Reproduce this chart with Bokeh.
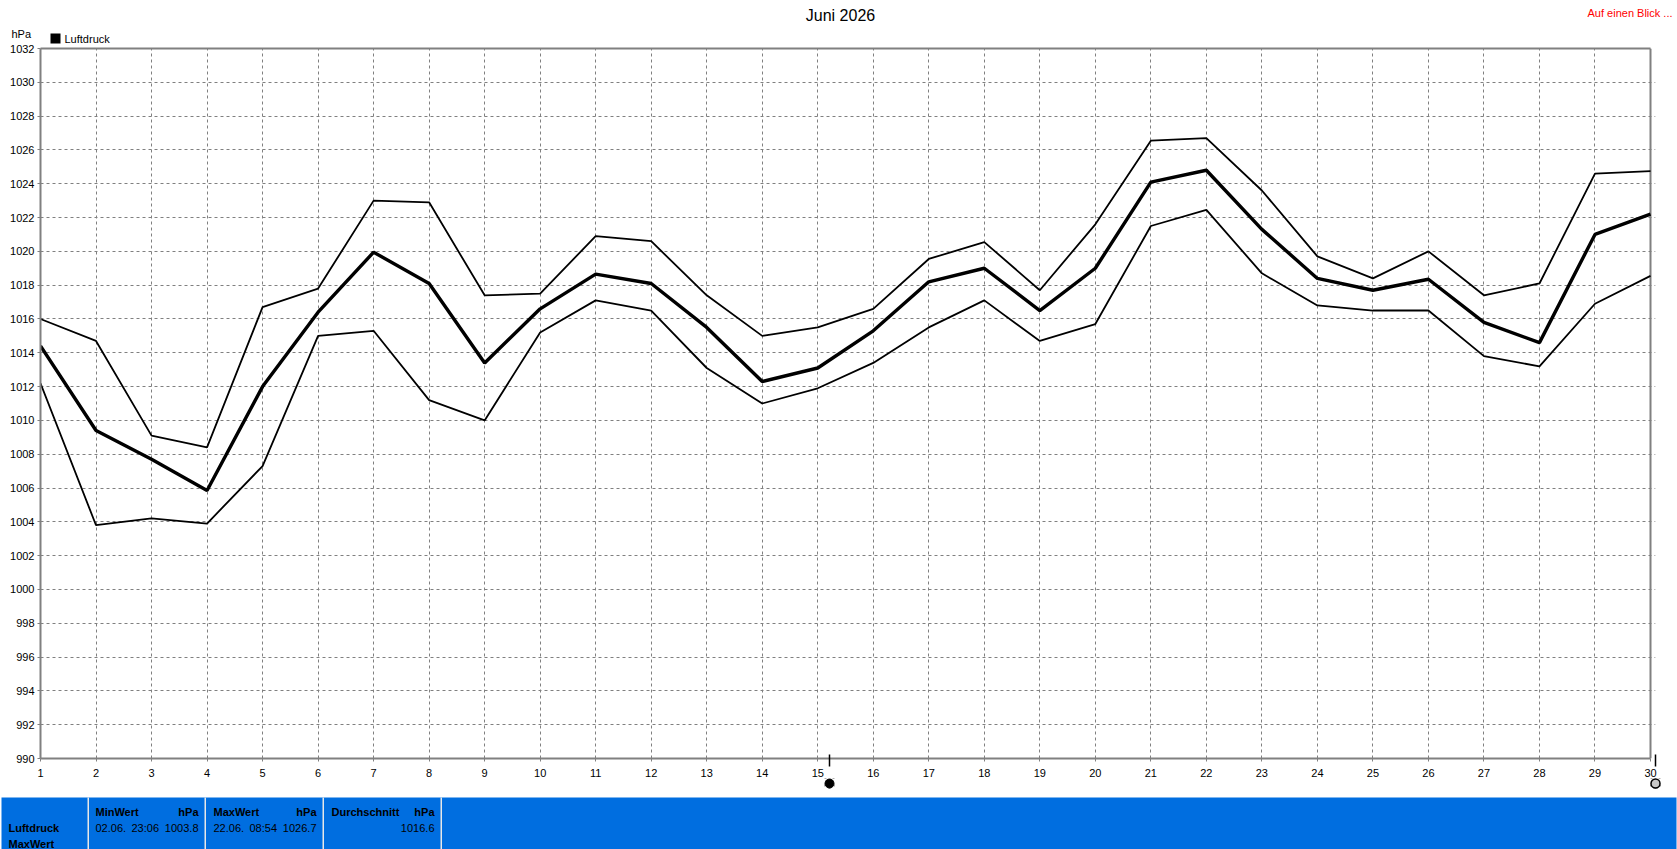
from bokeh.plotting import figure
from bokeh.layouts import column
from bokeh.models import Range1d, FixedTicker, LinearAxis
from bokeh.core.properties import value
from bokeh.embed import file_html
from bokeh.resources import INLINE

days = list(range(1, 31))
luftdruck_max = [1016.0, 1014.7, 1009.1, 1008.4, 1016.7, 1017.8, 1023.0, 1022.9, 1017.4, 1017.5,
                 1020.9, 1020.6, 1017.4, 1015.0, 1015.5, 1016.6, 1019.55, 1020.55, 1017.7, 1021.6,
                 1026.55, 1026.7, 1023.6, 1019.7, 1018.4, 1020.0, 1017.4, 1018.1, 1024.6, 1024.75]
luftdruck_avg = [1014.4, 1009.4, 1007.7, 1005.85, 1012.0, 1016.4, 1019.95, 1018.1, 1013.4, 1016.6,
                 1018.65, 1018.1, 1015.5, 1012.3, 1013.1, 1015.3, 1018.2, 1019.0, 1016.5, 1019.0,
                 1024.1, 1024.8, 1021.3, 1018.4, 1017.7, 1018.35, 1015.8, 1014.6, 1021.0, 1022.2]
luftdruck_min = [1012.2, 1003.8, 1004.2, 1003.9, 1007.3, 1015.0, 1015.3, 1011.2, 1010.0, 1015.2,
                 1017.1, 1016.5, 1013.1, 1011.0, 1011.9, 1013.4, 1015.5, 1017.1, 1014.7, 1015.7,
                 1021.5, 1022.45, 1018.7, 1016.8, 1016.5, 1016.5, 1013.8, 1013.2, 1016.9, 1018.55]
y_ticks = list(range(990, 1034, 2))
moon_days = [15.21, 30.09]

FONT = "Liberation Sans"
GREY = "#808080"
BLUE = "#006EE0"
W = 1677


def strip(h, y0, transparent=False):
    f = figure(width=W, height=h, x_range=Range1d(0, W), y_range=Range1d(y0 + h, y0),
               x_axis_type=None, y_axis_type=None, output_backend="svg", toolbar_location=None,
               min_border=0, min_border_left=0, min_border_right=0, min_border_top=0, min_border_bottom=0)
    f.outline_line_color = None
    f.grid.visible = False
    f.frame_align = False
    if transparent:
        f.background_fill_color = None
        f.border_fill_color = None
    return f


def txt(f, x, y, s, align="left", size="11px", bold=False, color="black"):
    f.text([x], [y], text=[s], text_font=value(FONT), text_font_size=value(size),
           text_font_style="bold" if bold else "normal", text_color=color,
           text_align=align, text_baseline="middle")


# --- top strip: title, legend, unit
top = strip(48, 0)
top.margin = (0, 0, -12, 0)
txt(top, 840, 15, "Juni 2026", "center", "16px")
txt(top, 1672, 12, "Auf einen Blick ...", "right", color="#FF0000")
txt(top, 11, 33, "hPa")
top.quad(left=[50], right=[60], top=[33], bottom=[43], fill_color="black", line_color=None)
txt(top, 64, 38, "Luftdruck")

# --- main chart
p = figure(width=W, height=745, frame_width=1615, frame_height=710,
           x_range=Range1d(1, 30.09), y_range=Range1d(990, 1032),
           output_backend="svg", toolbar_location=None, x_axis_location="below",
           min_border_left=40, min_border_right=22, min_border_top=12, min_border_bottom=23)
p.margin = (0, 0, -4, 0)
p.frame_align = False
p.outline_line_color = None
p.border_fill_color = None

# base axis: only the grey frame line
base = p.xaxis[0]
base.bounds = (1, 30)
base.axis_line_color = GREY
base.axis_line_width = 2
base.ticker = FixedTicker(ticks=[])
base.major_tick_line_color = None
base.minor_tick_line_color = None
base.major_label_text_font_size = "1px"
base.major_label_standoff = 0

# moon ticks (black) with the day ticks as grey minor ticks
moon_axis = LinearAxis(ticker=FixedTicker(ticks=moon_days, minor_ticks=days), axis_line_color=None,
                       major_tick_line_color="black", major_tick_line_width=1.5,
                       major_tick_in=4, major_tick_out=8,
                       minor_tick_line_color=GREY, minor_tick_line_width=1,
                       minor_tick_in=0, minor_tick_out=3,
                       major_label_overrides={t: "" for t in moon_days},
                       major_label_text_font_size="1px", major_label_standoff=0)
p.add_layout(moon_axis, "below")

# day labels
label_axis = LinearAxis(ticker=FixedTicker(ticks=days), axis_line_color=None,
                        major_tick_line_color=None, minor_tick_line_color=None,
                        major_tick_in=0, major_tick_out=0, major_label_standoff=2,
                        major_label_text_font=FONT, major_label_text_font_size="11px",
                        major_label_text_color="black")
p.add_layout(label_axis, "below")

# top frame line
top_axis = LinearAxis(bounds=(1, 30), ticker=FixedTicker(ticks=[]), axis_line_color=GREY, axis_line_width=2,
                      major_tick_line_color=None, minor_tick_line_color=None,
                      major_label_text_font_size="1px", major_label_standoff=0)
p.add_layout(top_axis, "above")

ya = p.yaxis[0]
ya.ticker = FixedTicker(ticks=y_ticks)
ya.axis_line_color = GREY
ya.axis_line_width = 2
ya.major_tick_line_color = GREY
ya.major_tick_out = 3
ya.major_tick_in = 0
ya.minor_tick_line_color = None
ya.major_label_text_font = FONT
ya.major_label_text_font_size = "11px"
ya.major_label_text_color = "black"
ya.major_label_standoff = 3

p.xgrid[0].ticker = FixedTicker(ticks=days)
p.ygrid[0].ticker = FixedTicker(ticks=y_ticks)
p.ygrid[0].bounds = (1, 30)
for g in (p.xgrid[0], p.ygrid[0]):
    g.grid_line_color = GREY
    g.grid_line_dash = "3 3"
    g.grid_line_width = 1

# right frame line
p.segment([30], [990], [30], [1032], line_color=GREY, line_width=2)

p.line(days, luftdruck_max, line_color="black", line_width=1.8)
p.line(days, luftdruck_min, line_color="black", line_width=1.8)
p.line(days, luftdruck_avg, line_color="black", line_width=3.4)

# --- bottom strip: moon symbols and info band
bot = strip(72, 777, transparent=True)
bot.scatter([829, 1655], [783, 783], marker="square", size=10, fill_color=None,
            line_color="#B0B0B0", line_dash="2 6")
bot.scatter([829], [783], marker="circle", size=9, fill_color="black", line_color="black")
bot.scatter([1655], [783], marker="circle", size=9, fill_color="#C8C8C8", line_color="black", line_width=1.5)

bot.quad(left=[1], right=[1676], top=[797], bottom=[849], fill_color=BLUE, line_color=None)
bot.quad(left=[87, 204, 322, 440], right=[88.5, 205.5, 323.5, 441.5],
         top=[797] * 4, bottom=[849] * 4, fill_color="#E8E8E8", line_color=None)

txt(bot, 8, 827, "Luftdruck", bold=True)
txt(bot, 8, 843, "MaxWert", bold=True)
txt(bot, 95, 811, "MinWert", bold=True)
txt(bot, 198, 811, "hPa", "right", bold=True)
txt(bot, 95, 827, "02.06.")
txt(bot, 131, 827, "23:06")
txt(bot, 198, 827, "1003.8", "right")
txt(bot, 213, 811, "MaxWert", bold=True)
txt(bot, 316, 811, "hPa", "right", bold=True)
txt(bot, 213, 827, "22.06.")
txt(bot, 249, 827, "08:54")
txt(bot, 316, 827, "1026.7", "right")
txt(bot, 331, 811, "Durchschnitt", bold=True)
txt(bot, 434, 811, "hPa", "right", bold=True)
txt(bot, 434, 827, "1016.6", "right")

page = column(top, p, bot, spacing=0)
page.margin = 0
open("out.html", "w").write(file_html(page, INLINE))
